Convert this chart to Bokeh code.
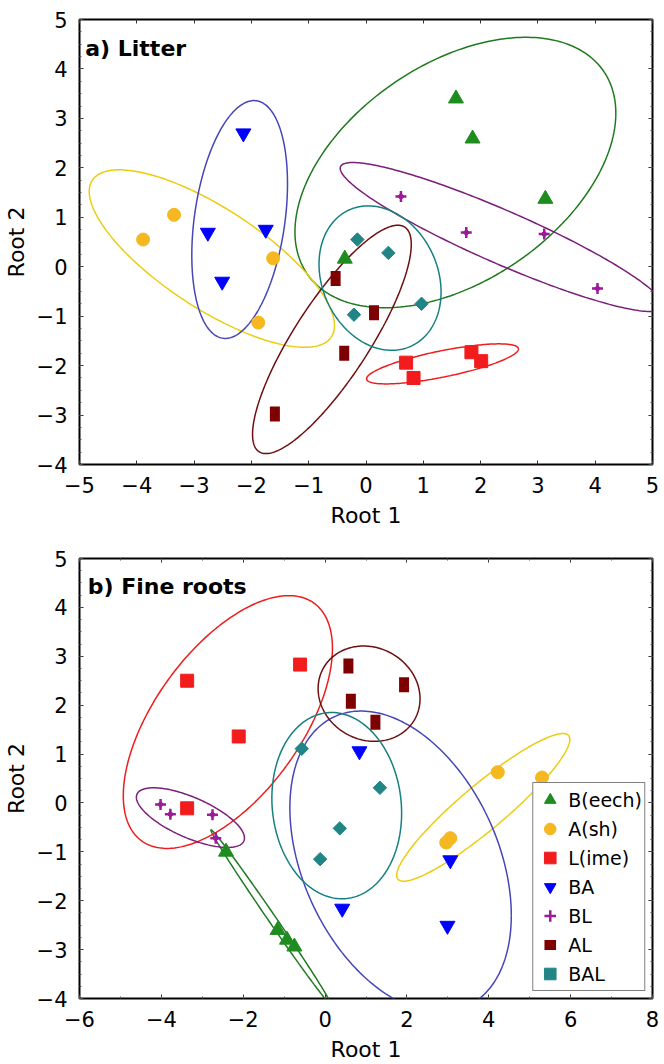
import numpy as np
from bokeh.plotting import figure
from bokeh.layouts import column
from bokeh.models import (Range1d, LinearAxis, SingleIntervalTicker, Legend, LegendItem, Label,
                          CustomLabelingPolicy)
from bokeh.embed import file_html
from bokeh.resources import INLINE

# ---------------- data ----------------
groups = ["B(eech)", "A(sh)", "L(ime)", "BA", "BL", "AL", "BAL"]
marker_colors = ["#1e8c1e", "#f5b820", "#f21c1c", "#0000ff", "#9b1b9b", "#7f0000", "#218585"]
ellipse_colors = ["#1f7a1f", "#eccc10", "#ee1c1c", "#4646b8", "#7b1f7b", "#6e0f0f", "#168080"]

# Panel a) Litter  (Root 1, Root 2)
a_x = {
    "B(eech)": [1.57, 1.86, 3.13, -0.37],
    "A(sh)":   [-3.89, -3.35, -1.62, -1.88],
    "L(ime)":  [0.70, 0.83, 1.84, 2.01],
    "BA":      [-2.14, -2.76, -1.75, -2.51],
    "BL":      [0.61, 1.75, 3.11, 4.04],
    "AL":      [-0.53, 0.14, -0.38, -1.59],
    "BAL":     [-0.15, 0.39, 0.97, -0.21],
}
a_y = {
    "B(eech)": [3.40, 2.59, 1.37, 0.16],
    "A(sh)":   [0.55, 1.05, 0.17, -1.13],
    "L(ime)":  [-1.94, -2.25, -1.73, -1.91],
    "BA":      [2.70, 0.69, 0.75, -0.30],
    "BL":      [1.42, 0.69, 0.66, -0.44],
    "AL":      [-0.24, -0.93, -1.75, -2.98],
    "BAL":     [0.55, 0.28, -0.75, -0.97],
}
# ellipses a: centre x, centre y, half-width, half-height, correlation
a_ell_cx = [1.56, -2.69, 1.335, -2.205, 2.37, -0.595, 0.245]
a_ell_cy = [1.905, 0.165, -1.965, 0.955, 0.60, -1.47, -0.23]
a_ell_rx = [2.80, 2.14, 1.325, 0.835, 2.82, 1.385, 1.065]
a_ell_ry = [2.735, 1.795, 0.405, 2.405, 1.507, 2.31, 1.46]
a_ell_rho = [0.439, -0.755, 0.745, 0.30, -0.922, 0.831, -0.193]

# Panel b) Fine roots
b_x = {
    "B(eech)": [-2.42, -1.16, -0.93, -0.75],
    "A(sh)":   [4.22, 5.30, 3.06, 2.96],
    "L(ime)":  [-3.37, -0.61, -2.11, -3.37],
    "BA":      [0.84, 3.06, 0.42, 2.99],
    "BL":      [-4.02, -3.78, -2.75, -2.67],
    "AL":      [0.57, 0.63, 1.93, 1.23],
    "BAL":     [-0.57, 1.34, 0.36, -0.12],
}
b_y = {
    "B(eech)": [-1.0, -2.60, -2.80, -2.94],
    "A(sh)":   [0.63, 0.52, -0.72, -0.81],
    "L(ime)":  [2.50, 2.83, 1.36, -0.11],
    "BA":      [1.06, -1.17, -2.16, -2.51],
    "BL":      [-0.03, -0.23, -0.24, -0.72],
    "AL":      [2.80, 2.08, 2.42, 1.65],
    "BAL":     [1.11, 0.31, -0.52, -1.15],
}
b_ell_cx = [-1.32, 3.865, -2.375, 1.845, -3.29, 1.075, 0.285]
b_ell_cy = [-2.34, -0.09, 1.655, -1.20, -0.30, 2.235, -0.055]
b_ell_rx = [1.47, 2.115, 2.555, 2.705, 1.32, 1.245, 1.585]
b_ell_ry = [1.79, 1.51, 2.585, 3.08, 0.61, 0.975, 1.905]
b_ell_rho = [-0.997, 0.92, 0.583, -0.357, -0.683, -0.107, -0.08]

FONT = "DejaVu Sans"


def ellipse_xy(cx, cy, rx, ry, rho, n=240):
    t = np.linspace(0, 2 * np.pi, n)
    x = cx + rx * np.cos(t)
    y = cy + rho * ry * np.cos(t) + ry * np.sqrt(1 - rho ** 2) * np.sin(t)
    return x, y


def make_panel(title, xs, ys, ecx, ecy, erx, ery, erho, xr, yr, xint, xminor,
               height, borders, title_xy, with_legend):
    bl, br, bt, bb = borders
    p = figure(width=664, height=height, x_range=Range1d(*xr), y_range=Range1d(*yr),
               output_backend="svg", toolbar_location=None,
               min_border_left=bl, min_border_right=br, min_border_top=bt, min_border_bottom=bb)
    p.xaxis.visible = False
    p.yaxis.visible = False
    p.grid.visible = False
    p.outline_line_color = "black"
    p.outline_line_width = 2
    p.background_fill_color = "white"
    p.border_fill_color = "white"

    def style(ax):
        ax.axis_line_color = None
        ax.major_tick_in = 4
        ax.major_tick_out = 0
        ax.minor_tick_in = 2
        ax.minor_tick_out = 0
        ax.major_tick_line_color = "#333333"
        ax.minor_tick_line_color = "#555555"
        ax.major_label_text_font = FONT
        ax.major_label_text_font_size = "21px"
        ax.major_label_text_color = "black"
        ax.major_label_standoff = 12
        ax.axis_label_text_font = FONT
        ax.axis_label_text_font_size = "22px"
        ax.axis_label_text_font_style = "normal"
        ax.axis_label_text_color = "black"

    xb = LinearAxis(ticker=SingleIntervalTicker(interval=xint, num_minor_ticks=xminor), axis_label="Root 1")
    style(xb)
    xb.axis_label_standoff = 7
    yl = LinearAxis(ticker=SingleIntervalTicker(interval=1, num_minor_ticks=4), axis_label="Root 2")
    style(yl)
    yl.axis_label_standoff = 5
    p.add_layout(xb, "below")
    p.add_layout(yl, "left")

    # tick marks only on the top and right frame edges (labels filtered out)
    no_labels = "for (const i of indices) { indices.unset(i) }\nreturn indices"
    for loc, tk in (("above", SingleIntervalTicker(interval=xint, num_minor_ticks=xminor)),
                    ("right", SingleIntervalTicker(interval=1, num_minor_ticks=4))):
        ax = LinearAxis(ticker=tk, major_label_policy=CustomLabelingPolicy(code=no_labels))
        style(ax)
        ax.major_label_text_font_size = "1px"
        ax.major_label_standoff = 0
        p.add_layout(ax, loc)

    # ellipses
    for i, g in enumerate(groups):
        ex, ey = ellipse_xy(ecx[i], ecy[i], erx[i], ery[i], erho[i])
        p.line(ex, ey, line_color=ellipse_colors[i], line_width=1.5)

    items = []
    for i, g in enumerate(groups):
        c = marker_colors[i]
        x, y = xs[g], ys[g]
        if g == "B(eech)":
            rs = [p.scatter(x, y, marker="triangle", size=15, fill_color=c, line_color=c)]
            leg_rs = rs
        elif g == "A(sh)":
            rs = [p.scatter(x, y, marker="circle", size=13, fill_color=c, line_color=c)]
            leg_rs = rs
        elif g == "L(ime)":
            rs = [p.scatter(x, y, marker="square", size=13, fill_color=c, line_color=c)]
            leg_rs = rs
        elif g == "BA":
            rs = [p.scatter(x, y, marker="inverted_triangle", size=15, fill_color=c, line_color=c)]
            leg_rs = rs
        elif g == "BL":
            r1 = p.scatter(x, y, marker="cross", size=11, line_color=c, line_width=2.5)
            r2 = p.scatter(x, y, marker="square", size=4.5, angle=np.pi / 4, fill_color=c, line_color=c)
            leg_rs = [r1]
        elif g == "AL":
            rs = [p.scatter(x, y, marker="dash", size=15, angle=np.pi / 2, line_color=c, line_width=10)]
            leg_rs = rs
        else:
            rs = [p.scatter(x, y, marker="square", size=9.5, angle=np.pi / 4, fill_color=c, line_color=c)]
            leg_rs = rs
        items.append(LegendItem(label=g, renderers=leg_rs))

    lab = Label(x=title_xy[0], y=title_xy[1], text=title, text_font=FONT, text_font_size="22px",
                text_font_style="bold", text_baseline="top", text_align="left", text_color="black")
    p.add_layout(lab)

    if with_legend:
        leg = Legend(items=items, location="bottom_right")
        leg.label_text_font = FONT
        leg.label_text_font_size = "19px"
        leg.label_text_color = "black"
        leg.glyph_width = 29
        leg.glyph_height = 29
        leg.label_height = 20
        leg.spacing = 0
        leg.padding = 2
        leg.margin = 7
        leg.label_standoff = 4
        leg.border_line_color = "black"
        leg.border_line_width = 1.5
        leg.background_fill_alpha = 1.0
        p.add_layout(leg, "center")
    return p


pa = make_panel("a) Litter", a_x, a_y, a_ell_cx, a_ell_cy, a_ell_rx, a_ell_ry, a_ell_rho,
                (-5, 5), (-4, 5), 1, 0, 530, (69, 12, 19, 66), (-4.9, 4.66), False)
pb = make_panel("b) Fine roots", b_x, b_y, b_ell_cx, b_ell_cy, b_ell_rx, b_ell_ry, b_ell_rho,
                (-6, 8), (-4, 5), 2, 2, 534, (64, 12, 28, 60), (-5.8, 4.69), True)

layout = column(pa, pb, spacing=0)
open("out.html", "w").write(file_html(layout, INLINE))
